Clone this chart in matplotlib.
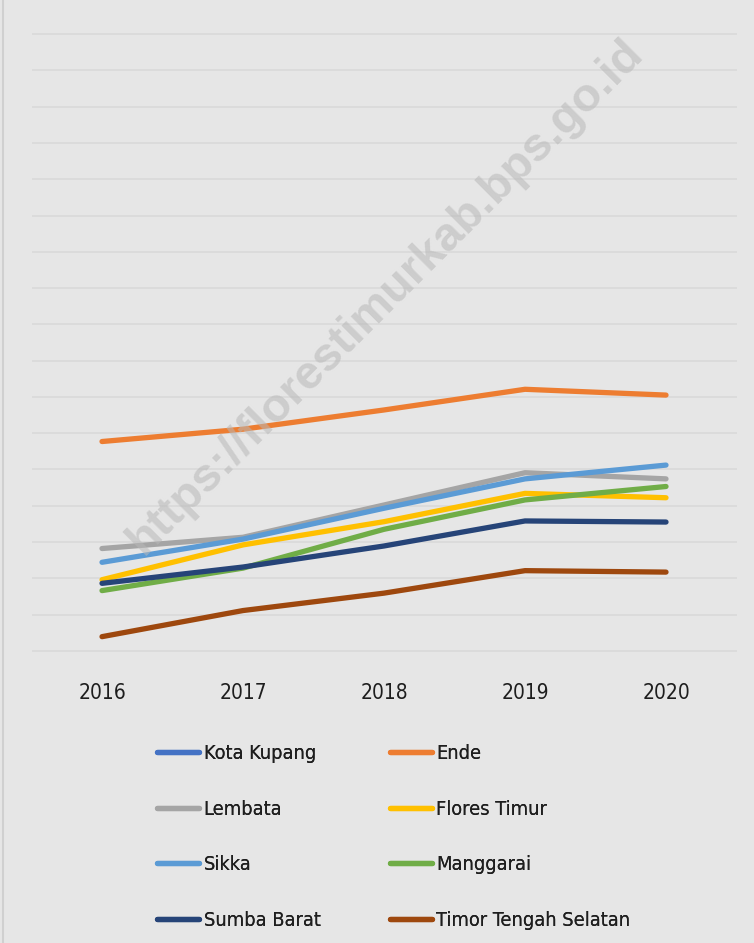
import matplotlib
matplotlib.use("Agg")
import matplotlib.pyplot as plt
import numpy as np
from matplotlib.lines import Line2D
from matplotlib.patches import Rectangle

years = ["2016", "2017", "2018", "2019", "2020"]
kota_kupang = [np.nan, np.nan, np.nan, np.nan, np.nan]
ende = [5.77, 6.11, 6.64, 7.21, 7.05]
lembata = [2.82, 3.13, 4.02, 4.91, 4.74]
flores_timur = [1.96, 2.92, 3.56, 4.34, 4.22]
sikka = [2.44, 3.08, 3.93, 4.74, 5.12]
manggarai = [1.66, 2.28, 3.35, 4.16, 4.53]
sumba_barat = [1.86, 2.31, 2.89, 3.58, 3.55]
tts = [0.39, 1.11, 1.59, 2.21, 2.17]

series = [
    ("Kota Kupang", kota_kupang, "#4472C4"),
    ("Ende", ende, "#ED7D31"),
    ("Lembata", lembata, "#A5A5A5"),
    ("Flores Timur", flores_timur, "#FFC000"),
    ("Sikka", sikka, "#5B9BD5"),
    ("Manggarai", manggarai, "#70AD47"),
    ("Sumba Barat", sumba_barat, "#264478"),
    ("Timor Tengah Selatan", tts, "#9E480E"),
]

BG = "#e6e6e6"
fig = plt.figure(figsize=(7.54, 9.43), dpi=100, facecolor=BG)
fig.patches.append(Rectangle((0.0045, -0.01), 1.0, 1.02, transform=fig.transFigure,
                             facecolor="none", edgecolor="#d0d0d0", lw=1.5))
ax = fig.add_axes([0.0418, 0.3087, 0.9350, 0.6562])
ax.set_facecolor(BG)

x = np.arange(len(years))
handles = {}
for name, vals, col in series:
    ax.plot(x, vals, color=col, lw=3.8, solid_capstyle="round", solid_joinstyle="round")
    handles[name] = Line2D([0], [0], color=col, lw=3.8, solid_capstyle="round")

ax.set_xlim(-0.5, len(years) - 0.5)
ax.set_ylim(-0.03, 17.03)
ax.set_yticks(np.arange(0, 18, 1))
ax.yaxis.grid(True, color="#d9d9d9", lw=1.2)
ax.set_axisbelow(True)
ax.tick_params(axis="y", left=False, labelleft=False)
ax.tick_params(axis="x", bottom=False, pad=19)
ax.set_xticks(x)
ax.set_xticklabels(years, fontsize=15, family="DejaVu Sans", stretch="condensed", color="#1e1e1e")
for s in ax.spines.values():
    s.set_visible(False)

# watermark
fig.text(0.512, 0.685, "https://florestimurkab.bps.go.id", rotation=45, fontsize=34,
         family="Liberation Sans", weight="bold", color="#b8b8b8", alpha=0.55,
         ha="center", va="center", zorder=10)

col1 = ["Kota Kupang", "Lembata", "Sikka", "Sumba Barat"]
col2 = ["Ende", "Flores Timur", "Manggarai", "Timor Tengah Selatan"]
for names, xpos in ((col1, 0.208), (col2, 0.517)):
    leg = fig.legend([handles[n] for n in names], names, loc="upper left",
                     bbox_to_anchor=(xpos, 0.211), bbox_transform=fig.transFigure,
                     frameon=False, handlelength=2.1, handletextpad=0.25,
                     labelspacing=1.84, borderaxespad=0, borderpad=0,
                     prop=dict(family="DejaVu Sans", stretch="condensed", size=14.3))
    for t in leg.get_texts():
        t.set_color("#1e1e1e")
    fig.add_artist(leg)

fig.savefig("out.png", dpi=100, facecolor=BG)
